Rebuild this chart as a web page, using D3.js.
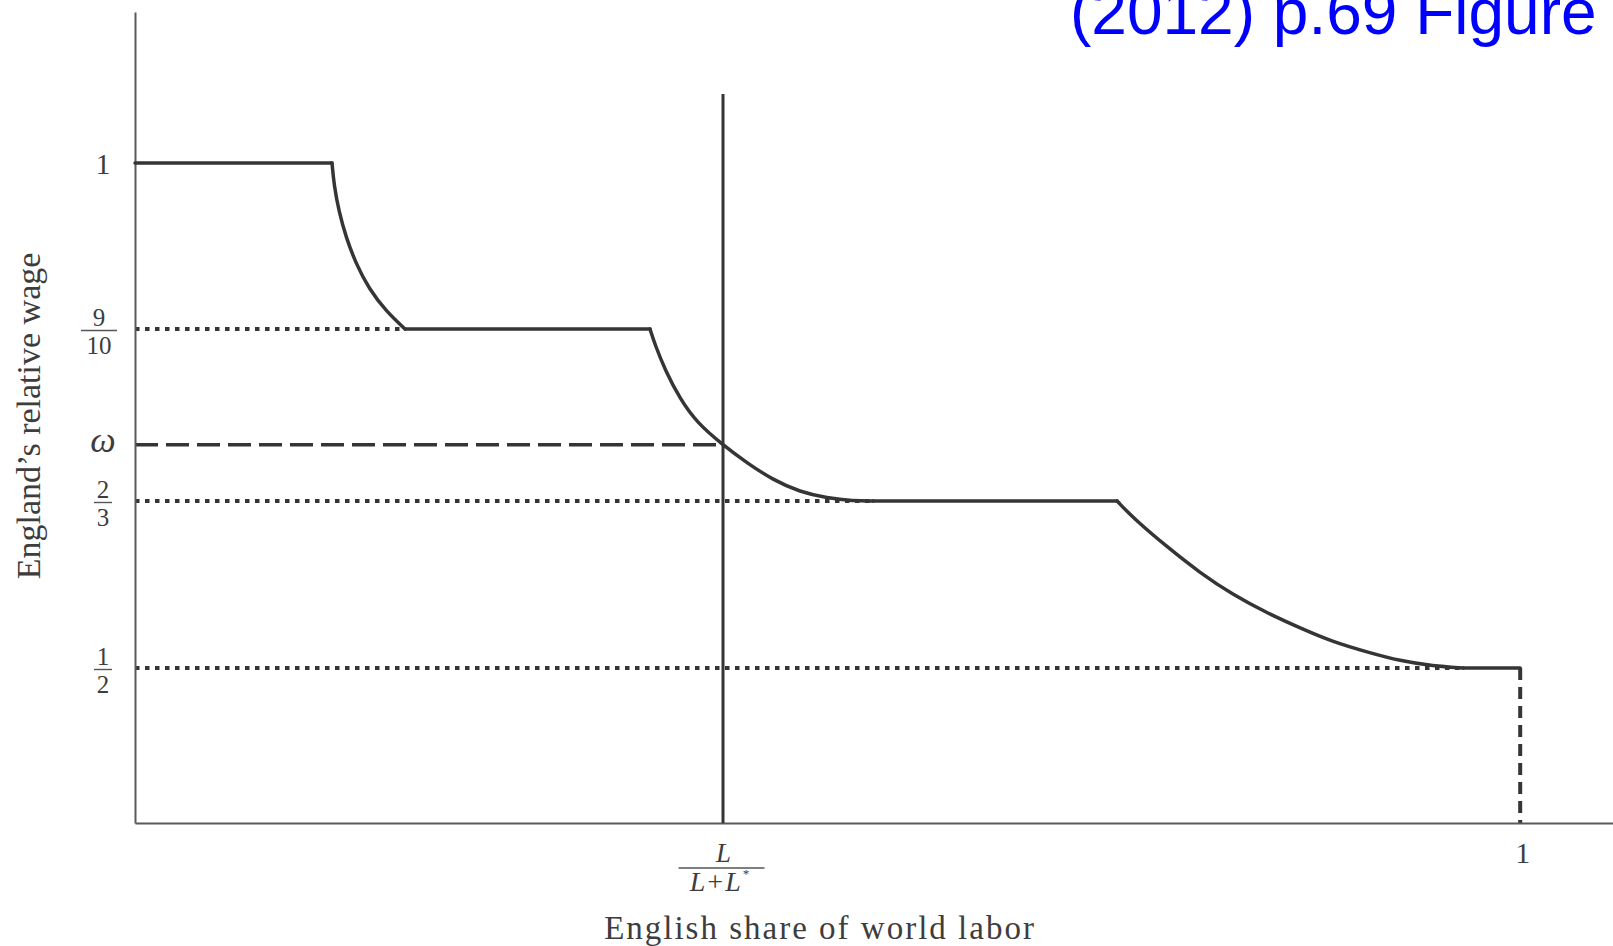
<!DOCTYPE html>
<html>
<head>
<meta charset="utf-8">
<script src="https://cdn.jsdelivr.net/npm/d3@7"></script>
<style>
  body { margin: 0; background: #fff; }
  svg { display: block; }
  .serif { font-family: "Liberation Serif", "Times New Roman", serif; fill: #3d3d3d; }
</style>
</head>
<body>
<svg id="fig" width="1613" height="946"></svg>
<script>
// values (x = English share of world labor, y = relative wage)
const share = 0.4245;           // L / (L + L*)
const omega = 0.743;            // equilibrium relative wage

const yTickValues = [1, 0.9, omega, 2 / 3, 0.5];
const yTickLabels = ["1", ["9", "10"], "ω", ["2", "3"], ["1", "2"]];

const xTickValues = [share, 1];
const xTickLabels = [["L", "L+L*"], "1"];

const dottedLevels = [0.9, 2 / 3, 0.5];

// curved pieces of the relative wage schedule
const curve1 = [[0.1422, 1.0], [0.1437, 0.9867], [0.1473, 0.9705], [0.1523, 0.9554],
    [0.1596, 0.9392], [0.169, 0.9241], [0.1812, 0.9108], [0.1949, 0.9]];
const curve2 = [[0.3718, 0.9], [0.3755, 0.8783], [0.3827, 0.8444], [0.3935, 0.805],
    [0.4058, 0.7725], [0.4245, 0.7426], [0.4419, 0.7182], [0.4606, 0.6952],
    [0.4801, 0.6789], [0.4996, 0.6707], [0.5184, 0.6667], [0.5329, 0.6667]];
const curve3 = [[0.709, 0.6667], [0.7206, 0.6497], [0.7451, 0.6208], [0.769, 0.5948],
    [0.7928, 0.5729], [0.8173, 0.5549], [0.8412, 0.5399], [0.865, 0.5259],
    [0.8895, 0.516], [0.9134, 0.507], [0.9372, 0.502], [0.9589, 0.5]];

const vLineTop = 1.0416;

function makeFig() {
    const svg = d3.select("#fig");
    const ink = "#353535";

    // x is linear, y is drawn schematically (piecewise) like the original
    var x = d3.scaleLinear()
        .domain([0, 1.067])
        .range([135, 1613]);

    var y = d3.scaleLinear()
        .domain([0, 0.5, 2 / 3, 0.9, 1, 1.091])
        .range([823, 668, 501, 329, 163, 12]);

    // dotted guide lines, drawn under the curve
    const levelEnds = { 0.9: curve1[curve1.length - 1][0], 0.5: curve3[curve3.length - 1][0] };
    levelEnds[2 / 3] = curve2[curve2.length - 1][0];

    svg.append("g")
        .selectAll("line")
        .data(dottedLevels)
        .enter()
        .append("line")
        .attr("x1", x(0))
        .attr("x2", d => x(levelEnds[d]))
        .attr("y1", d => y(d))
        .attr("y2", d => y(d))
        .attr("stroke", ink)
        .attr("stroke-width", 4)
        .attr("stroke-dasharray", "4.5,5.5");

    // omega dashed line
    svg.append("line")
        .attr("x1", x(0)).attr("x2", x(share))
        .attr("y1", y(omega)).attr("y2", y(omega))
        .attr("stroke", ink)
        .attr("stroke-width", 3.5)
        .attr("stroke-dasharray", "23,8");

    // vertical dashed at share = 1
    svg.append("line")
        .attr("x1", x(1)).attr("x2", x(1))
        .attr("y1", y(0.5)).attr("y2", y(0))
        .attr("stroke", ink)
        .attr("stroke-width", 4)
        .attr("stroke-dasharray", "12,7");

    // axes
    var xAxis = d3.axisBottom(x).tickValues(xTickValues).tickSize(0).tickFormat("");
    var yAxis = d3.axisLeft(y).tickValues(yTickValues).tickSize(0).tickFormat("");

    const gx = svg.append("g")
        .attr("transform", "translate(0," + y(0) + ")")
        .call(xAxis);
    const gy = svg.append("g")
        .attr("transform", "translate(" + x(0) + ",0)")
        .call(yAxis);

    [gx, gy].forEach(g => g.select(".domain")
        .attr("stroke", "#5a5a5a")
        .attr("stroke-width", 2));

    // vertical line at L/(L+L*)
    svg.append("line")
        .attr("x1", x(share)).attr("x2", x(share))
        .attr("y1", y(vLineTop)).attr("y2", y(0))
        .attr("stroke", ink)
        .attr("stroke-width", 3);

    // the wage schedule: flats between the curved pieces
    const curves = [curve1, curve2, curve3];
    const flats = [];
    let prev = [0, 1];
    curves.forEach(c => {
        flats.push([prev, c[0]]);
        prev = c[c.length - 1];
    });
    flats.push([prev, [1, prev[1]]]);

    var flatLine = d3.line()
        .x(d => x(d[0]))
        .y(d => y(d[1]));
    var curveLine = d3.line()
        .x(d => x(d[0]))
        .y(d => y(d[1]))
        .curve(d3.curveBasis);

    const wage = svg.append("g")
        .attr("fill", "none")
        .attr("stroke", ink)
        .attr("stroke-width", 3.5)
        .attr("stroke-linejoin", "round")
        .attr("stroke-linecap", "round");

    wage.selectAll("path.flat")
        .data(flats)
        .enter()
        .append("path")
        .attr("class", "flat")
        .attr("d", flatLine);

    wage.selectAll("path.curve")
        .data(curves)
        .enter()
        .append("path")
        .attr("class", "curve")
        .attr("d", curveLine);

    // y tick labels (fractions stacked)
    gy.selectAll(".tick").each(function (d, i) {
        const t = d3.select(this);
        const lab = yTickLabels[i];
        const wide = Array.isArray(lab) && lab[1].length > 1;
        const cx = wide ? -36 : -32;
        if (Array.isArray(lab)) {
            t.append("text").attr("class", "serif")
                .attr("x", cx).attr("y", -4)
                .attr("text-anchor", "middle")
                .attr("font-size", 25)
                .text(lab[0]);
            t.append("line")
                .attr("x1", cx - (wide ? 18 : 9))
                .attr("x2", cx + (wide ? 18 : 9))
                .attr("y1", 1).attr("y2", 1)
                .attr("stroke", "#555").attr("stroke-width", 1.4);
            t.append("text").attr("class", "serif")
                .attr("x", cx).attr("y", 24)
                .attr("text-anchor", "middle")
                .attr("font-size", 25)
                .text(lab[1]);
        } else {
            t.append("text").attr("class", "serif")
                .attr("x", cx).attr("y", lab === "ω" ? 7 : 10)
                .attr("text-anchor", "middle")
                .attr("font-size", lab === "ω" ? 36 : 30)
                .attr("font-style", lab === "ω" ? "italic" : null)
                .text(lab);
        }
    });

    // x tick labels
    gx.selectAll(".tick").each(function (d, i) {
        const t = d3.select(this);
        const lab = xTickLabels[i];
        if (Array.isArray(lab)) {
            t.append("text").attr("class", "serif")
                .attr("x", 0).attr("y", 39)
                .attr("text-anchor", "middle")
                .attr("font-size", 27)
                .attr("font-style", "italic")
                .text(lab[0]);
            t.append("line")
                .attr("x1", -45).attr("x2", 41)
                .attr("y1", 45).attr("y2", 45)
                .attr("stroke", "#555").attr("stroke-width", 1.4);
            const den = t.append("text").attr("class", "serif")
                .attr("x", -3).attr("y", 68)
                .attr("text-anchor", "middle")
                .attr("font-size", 28)
                .attr("letter-spacing", 2);
            den.append("tspan").attr("font-style", "italic").text("L");
            den.append("tspan").text("+");
            den.append("tspan").attr("font-style", "italic").text("L");
            den.append("tspan").attr("font-size", 13).attr("dy", -13).text("*");
        } else {
            t.append("text").attr("class", "serif")
                .attr("x", 2).attr("y", 40)
                .attr("text-anchor", "middle")
                .attr("font-size", 30)
                .text(lab);
        }
    });

    // axis titles
    svg.append("text").attr("class", "serif")
        .attr("x", 820).attr("y", 939)
        .attr("text-anchor", "middle")
        .attr("font-size", 33)
        .attr("letter-spacing", 2)
        .text("English share of world labor");

    svg.append("text").attr("class", "serif")
        .attr("transform", "translate(40,416) rotate(-90)")
        .attr("text-anchor", "middle")
        .attr("font-size", 34)
        .text("England’s relative wage");

    // source note in the corner
    svg.append("text")
        .attr("x", 1070).attr("y", 34)
        .attr("font-family", "Liberation Sans, Arial, sans-serif")
        .attr("font-size", 64)
        .attr("fill", "#0000ff")
        .text("(2012) p.69 Figure");
}

makeFig();
</script>
</body>
</html>
